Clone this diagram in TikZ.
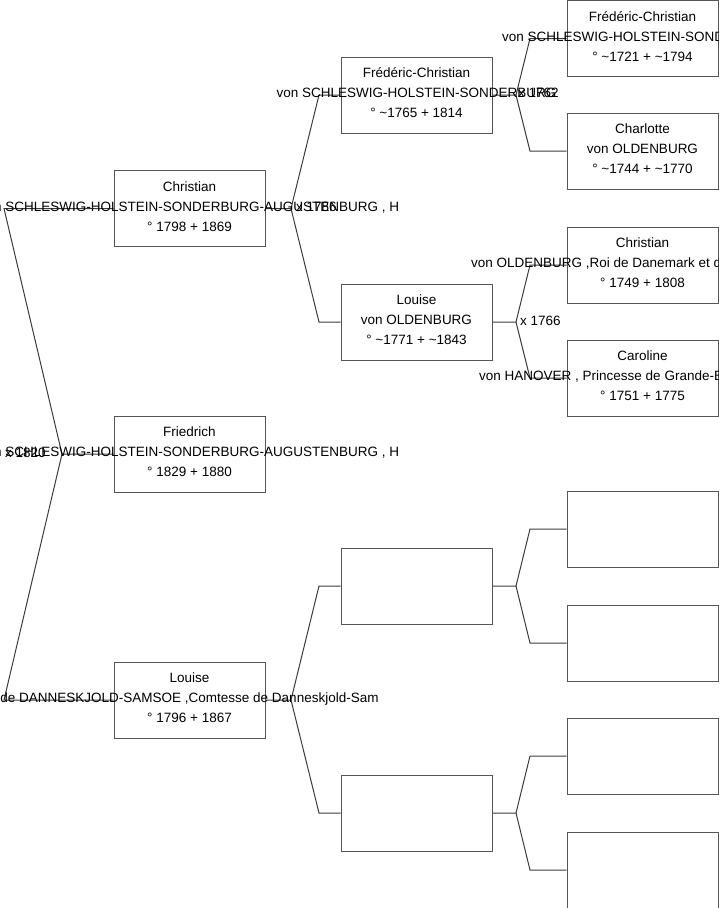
\documentclass[tikz,border=0pt]{standalone}
\usepackage{fontspec}
\setmainfont{Liberation Sans}
\usetikzlibrary{calc}
\definecolor{boxgray}{RGB}{85,85,85}
\definecolor{linegray}{RGB}{60,60,60}
\newcommand\personlines[4]{%
  \node[txt] (#1-n) at ($(#1.center)+(0,-17.5)$) {#2};
  \node[txt] (#1-f) at ($(#1.center)+(0,2.5)$) {#3};
  \node[txt] (#1-d) at ($(#1.center)+(0,22.5)$) {#4};}
\begin{document}
\begin{tikzpicture}[x=1pt,y=-1pt,
  box/.style={draw=boxgray,line width=1pt,minimum width=151pt,minimum height=76pt,inner sep=0pt,fill=none},
  txt/.style={font=\fontsize{13.5}{16}\selectfont,inner sep=0pt,anchor=base},
  txtw/.style={font=\fontsize{13.5}{16}\selectfont,inner sep=0pt,anchor=base west},
  conn/.style={draw=linegray,line width=1pt}]
\useasboundingbox (0,0) rectangle (719,908);
\clip (0,0) rectangle (719,908);
\fill[white] (0,0) rectangle (719,908);

% column 1
\node[box] (c1a) at (189.5,208.5) {};
\node[box] (c1b) at (189.5,454) {};
\node[box] (c1c) at (189.5,700) {};
% column 2
\node[box] (c2a) at (416.5,95) {};
\node[box] (c2b) at (416.5,322) {};
\node[box] (c2c) at (416.5,586) {};
\node[box] (c2d) at (416.5,813) {};
% column 3
\node[box] (c3a) at (642.5,38.5) {};
\node[box] (c3b) at (642.5,151) {};
\node[box] (c3c) at (642.5,265) {};
\node[box] (c3d) at (642.5,378) {};
\node[box] (c3e) at (642.5,529) {};
\node[box] (c3f) at (642.5,643) {};
\node[box] (c3g) at (642.5,756) {};
\node[box] (c3h) at (642.5,870) {};

% fork vertices
\coordinate (v0) at (62,454);
\coordinate (v0a) at (4,208.5);
\coordinate (v0b) at (4,700);
\coordinate (v1) at (291,208.5);
\coordinate (v1a) at (319,95);
\coordinate (v1b) at (319,322);
\coordinate (v2) at (291,700);
\coordinate (v2a) at (319,586);
\coordinate (v2b) at (319,813);
\coordinate (v3) at (516,95);
\coordinate (v3a) at (530,38.5);
\coordinate (v3b) at (530,151);
\coordinate (v4) at (516,322);
\coordinate (v4a) at (530,265);
\coordinate (v4b) at (530,378);
\coordinate (v5) at (516,586);
\coordinate (v5a) at (530,529);
\coordinate (v5b) at (530,643);
\coordinate (v6) at (516,813);
\coordinate (v6a) at (530,756);
\coordinate (v6b) at (530,870);

% connectors
\draw[conn] (c1b.west) -- (v0) -- (v0a) -- (c1a.west);
\draw[conn] (v0) -- (v0b) -- (c1c.west);
\draw[conn] (c1a.east) -- (v1) -- (v1a) -- (c2a.west);
\draw[conn] (v1) -- (v1b) -- (c2b.west);
\draw[conn] (c1c.east) -- (v2) -- (v2a) -- (c2c.west);
\draw[conn] (v2) -- (v2b) -- (c2d.west);
\draw[conn] (c2a.east) -- (v3) -- (v3a) -- (c3a.west);
\draw[conn] (v3) -- (v3b) -- (c3b.west);
\draw[conn] (c2b.east) -- (v4) -- (v4a) -- (c3c.west);
\draw[conn] (v4) -- (v4b) -- (c3d.west);
\draw[conn] (c2c.east) -- (v5) -- (v5a) -- (c3e.west);
\draw[conn] (v5) -- (v5b) -- (c3f.west);
\draw[conn] (c2d.east) -- (v6) -- (v6a) -- (c3g.west);
\draw[conn] (v6) -- (v6b) -- (c3h.west);

% texts
\personlines{c1a}{Christian}{von SCHLESWIG-HOLSTEIN-SONDERBURG-AUGUSTENBURG , H}{° 1798 + 1869}
\personlines{c1b}{Friedrich}{von SCHLESWIG-HOLSTEIN-SONDERBURG-AUGUSTENBURG , H}{° 1829 + 1880}
\personlines{c1c}{Louise}{de DANNESKJOLD-SAMSOE ,Comtesse de Danneskjold-Sam}{° 1796 + 1867}
\personlines{c2a}{Frédéric-Christian}{von SCHLESWIG-HOLSTEIN-SONDERBURG}{° \textasciitilde1765 + 1814}
\personlines{c2b}{Louise}{von OLDENBURG}{° \textasciitilde1771 + \textasciitilde1843}
\personlines{c3a}{Frédéric-Christian}{}{° \textasciitilde1721 + \textasciitilde1794}
\node[txtw] (c3a-fw) at (502,41) {von SCHLESWIG-HOLSTEIN-SONDERBURG};
\personlines{c3b}{Charlotte}{von OLDENBURG}{° \textasciitilde1744 + \textasciitilde1770}
\personlines{c3c}{Christian}{}{° 1749 + 1808}
\node[txtw] (c3c-fw) at (471,267.5) {von OLDENBURG ,Roi de Danemark et de Norvège};
\personlines{c3d}{Caroline}{}{° 1751 + 1775}
\node[txtw] (c3d-fw) at (479,380.5) {von HANOVER , Princesse de Grande-Bretagne};

% marriage labels
\node[txtw] (m1820) at (5,457) {x 1820};
\node[txtw] (m1786) at (296,211) {x 1786};
\node[txtw] (m1762) at (518,97) {x 1762};
\node[txtw] (m1766) at (520,325) {x 1766};
\end{tikzpicture}
\end{document}
